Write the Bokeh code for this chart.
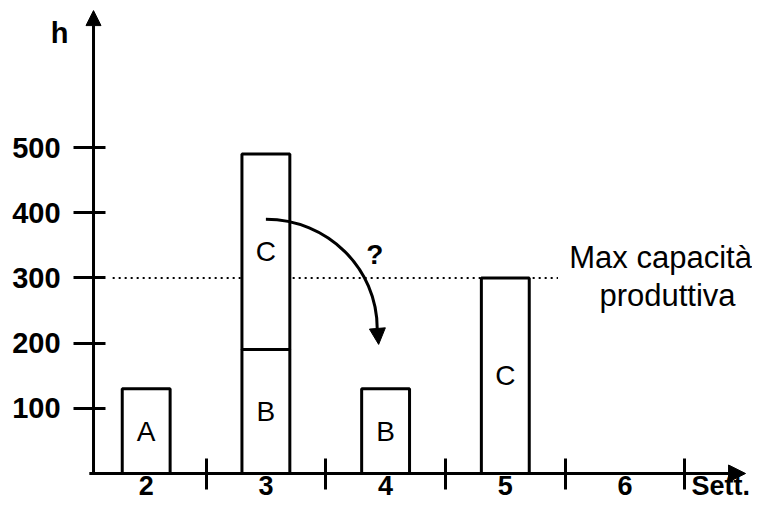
from bokeh.plotting import figure
from bokeh.models import FixedTicker, Arrow, NormalHead, Label, ColumnDataSource, Range1d
from bokeh.embed import file_html
from bokeh.resources import INLINE

# ---- data ----
weeks = [2, 3, 4, 5, 6]
axis_name_x = "Sett."
axis_name_y = "h"
seg_week = [2, 3, 3, 4, 5]
seg_product = ["A", "B", "C", "B", "C"]
seg_bottom = [0, 0, 190, 0, 0]
seg_top = [130, 190, 490, 130, 300]
h_ticks = [100, 200, 300, 400, 500]
capacity = 300
capacity_text = ["Max capacità", "produttiva"]
move_from = (3.0, 390)   # C moved out of week 3 ...
move_to = (3.93, 198)    # ... towards week 4
question = "?"

FONT = "Liberation Sans"
x_lo, x_hi = 0.783, 7.065
y_lo, y_hi = -44.5, 725.5
x_axis_at = 1.56       # where the h axis stands
sett_pos = 6.8         # where the "Sett." name sits on the week axis

p = figure(width=752, height=502, output_backend="svg", toolbar_location=None,
           x_range=Range1d(x_lo, x_hi), y_range=Range1d(y_lo, y_hi),
           min_border=0)
p.title.visible = False
p.grid.visible = False
p.outline_line_color = None
p.background_fill_color = "white"
p.border_fill_color = "white"

# x axis: week labels with separators as minor ticks
xa = p.xaxis[0]
xa.fixed_location = 0
xa.ticker = FixedTicker(ticks=weeks + [sett_pos], minor_ticks=[w + 0.5 for w in weeks])
xa.major_label_overrides = {sett_pos: axis_name_x}
xa.axis_line_color = None
xa.major_tick_in = 0
xa.major_tick_out = 0
xa.major_tick_line_color = None
xa.minor_tick_in = 15
xa.minor_tick_out = 16
xa.minor_tick_line_width = 3
xa.minor_tick_line_color = "black"
xa.major_label_text_font = FONT
xa.major_label_text_font_style = "bold"
xa.major_label_text_font_size = "27px"
xa.major_label_text_color = "black"
xa.major_label_standoff = -18

ya = p.yaxis[0]
ya.fixed_location = x_axis_at
ya.ticker = FixedTicker(ticks=h_ticks)
ya.axis_line_color = None
ya.major_tick_in = 12
ya.major_tick_out = 20
ya.major_tick_line_width = 3
ya.major_tick_line_color = "black"
ya.minor_tick_line_color = None
ya.major_label_text_font = FONT
ya.major_label_text_font_style = "bold"
ya.major_label_text_font_size = "29px"
ya.major_label_text_color = "black"
ya.major_label_standoff = 13

# axis arrows
p.add_layout(Arrow(x_start=x_axis_at - 0.035, y_start=0, x_end=7.007, y_end=0, line_width=3,
                   end=NormalHead(size=17, fill_color="black", line_color="black", line_width=1)))
p.add_layout(Arrow(x_start=x_axis_at, y_start=0, x_end=x_axis_at, y_end=710, line_width=3,
                   end=NormalHead(size=15, fill_color="black", line_color="black", line_width=1)))

# capacity line
p.segment(x0=[x_axis_at + 0.16], y0=[capacity], x1=[5.44], y1=[capacity],
          line_color="black", line_width=2, line_dash="2 4")

# bars
src = ColumnDataSource(dict(week=seg_week, bottom=seg_bottom, top=seg_top, product=seg_product,
                            mid=[(b + t) / 2 for b, t in zip(seg_bottom, seg_top)]))
p.vbar(x="week", bottom="bottom", top="top", width=0.4, source=src,
       fill_color="white", line_color="black", line_width=3)
p.text(x="week", y="mid", text="product", source=src, text_align="center",
       text_baseline="middle", text_font={"value": FONT}, text_font_size="28px", text_color="black")

# curved arrow
x0, y0 = move_from
x1, y1 = move_to[0], 222
k = 0.5523
p.bezier(x0=[x0], y0=[y0], x1=[x1], y1=[y1],
         cx0=[x0 + k * (x1 - x0)], cy0=[y0], cx1=[x1], cy1=[y1 + k * (y0 - y1)],
         line_color="black", line_width=3)
p.add_layout(Arrow(x_start=x1, y_start=y1 + 4, x_end=move_to[0] + 0.012, y_end=move_to[1],
                   line_width=0, line_alpha=0,
                   end=NormalHead(size=16, fill_color="black", line_color="black", line_width=1)))
p.add_layout(Label(x=3.909, y=336, text=question, text_align="center", text_baseline="middle",
                   text_font=FONT, text_font_style="bold", text_font_size="28px", text_color="black"))

# capacity label
p.add_layout(Label(x=6.297, y=331, text=capacity_text[0], text_align="center",
                   text_baseline="alphabetic", text_font=FONT, text_font_size="31px", text_color="black"))
p.add_layout(Label(x=6.355, y=273, text=capacity_text[1], text_align="center",
                   text_baseline="alphabetic", text_font=FONT, text_font_size="31px", text_color="black"))

# y axis name
p.add_layout(Label(x=1.276, y=675, text=axis_name_y, text_align="center", text_baseline="alphabetic",
                   text_font=FONT, text_font_style="bold", text_font_size="29px", text_color="black"))

open("out.html", "w").write(file_html(p, INLINE))
